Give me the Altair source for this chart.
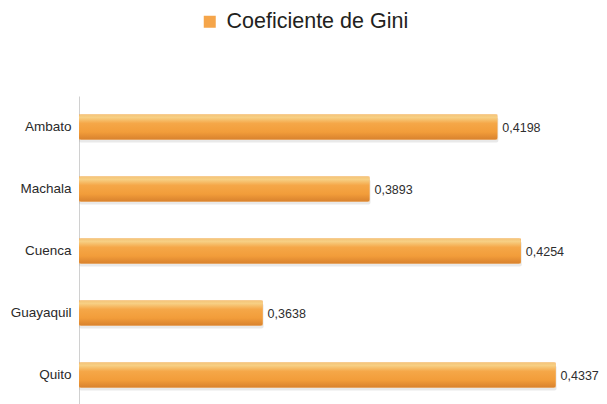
import altair as alt
import pandas as pd

cities = ["Ambato", "Machala", "Cuenca", "Guayaquil", "Quito"]
gini = [0.4198, 0.3893, 0.4254, 0.3638, 0.4337]
serie = "Coeficiente de Gini"

df = pd.DataFrame({
    "ciudad": cities,
    "gini": gini,
    "serie": [serie] * len(cities),
    "etiqueta": [f"{v:.4f}".replace(".", ",") for v in gini],
})

FONT = "Liberation Sans"
xscale = alt.Scale(domain=[0.32, 0.44], zero=False, nice=False)
yscale = alt.Scale(paddingInner=0.6, paddingOuter=0.3)

ybase = alt.Y("ciudad:N", sort=cities, scale=yscale,
              axis=alt.Axis(title=None, ticks=False, domainColor="#d0d0d0",
                            domainWidth=1, labelFont=FONT, labelFontSize=13.5,
                            labelColor="#2a2a2a", labelPadding=8, grid=False))
xenc = alt.X("gini:Q", scale=xscale, axis=None)

base = alt.Chart(df)

# shadow
shadow = base.mark_bar(color="#9a9a9a", opacity=0.22, yOffset=3, xOffset=1,
                       cornerRadius=2).encode(x=xenc, x2=alt.datum(0.32), y=ybase)

# legend carrier (hidden under gradient bars)
legend_layer = base.mark_bar().encode(
    x=xenc,
    x2=alt.datum(0.32),
    y=ybase,
    color=alt.Color("serie:N", scale=alt.Scale(range=["#f5a54a"]),
                    legend=alt.Legend(title=None, orient="none", legendX=120,
                                      legendY=-85, symbolType="square",
                                      symbolSize=144, symbolStrokeWidth=0,
                                      labelFont=FONT, labelFontSize=21.5,
                                      labelColor="#231f20", labelOffset=6,
                                      labelLimit=400, padding=0)),
)

grad = alt.Gradient(
    gradient="linear",
    stops=[
        alt.GradientStop(color="#f4c57a", offset=0),
        alt.GradientStop(color="#f7cf83", offset=0.12),
        alt.GradientStop(color="#f5a748", offset=0.35),
        alt.GradientStop(color="#f29d3a", offset=0.7),
        alt.GradientStop(color="#d9822e", offset=1),
    ],
    x1=0, x2=0, y1=0, y2=1,
)

bars = base.mark_bar(color=grad, cornerRadius=2).encode(x=xenc, x2=alt.datum(0.32), y=ybase)

labels = base.mark_text(align="left", baseline="middle", dx=5, dy=1, font=FONT,
                        fontSize=12.5, color="#2e2e2e").encode(
    x=xenc, y=ybase, text="etiqueta:N")

chart = alt.layer(shadow, legend_layer, bars, labels).properties(
    width=503,
    height=310,
    background="white",
    autosize=alt.AutoSizeParams(type="none"),
    padding={"left": 71, "top": 88, "right": 17, "bottom": 0},
).configure_view(stroke=None, strokeWidth=0)

chart.save("out.html", embed_options={"renderer": "svg", "actions": False})
